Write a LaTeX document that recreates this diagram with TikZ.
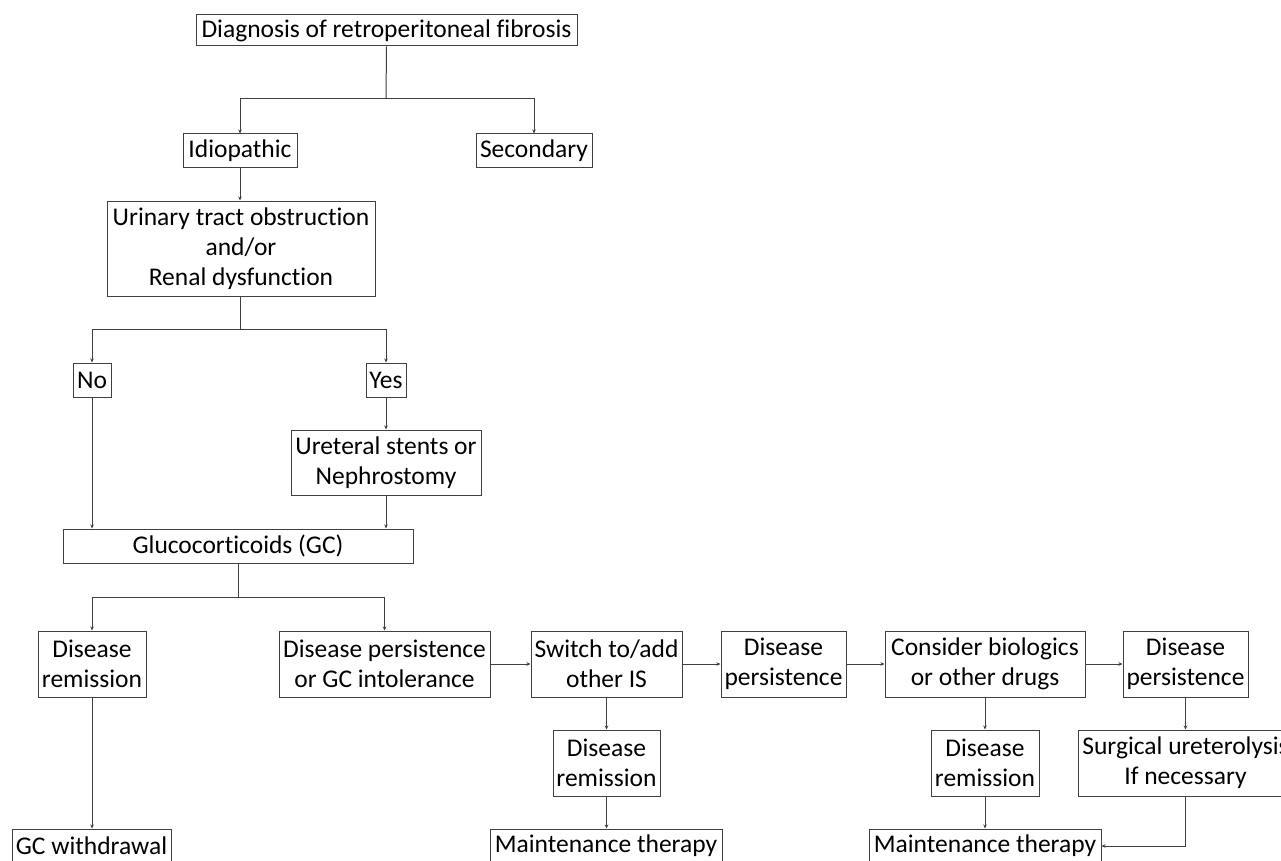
\documentclass[tikz,border=0pt]{standalone}
\usepackage{fontspec}
\setmainfont{Carlito}[Ligatures={NoCommon}]
\usetikzlibrary{arrows.meta}
\definecolor{ln}{HTML}{404040}
\tikzset{
  box/.style={draw=ln, line width=1pt, inner sep=0pt, align=center,
    font=\fontsize{25.5}{30}\selectfont, text=black},
  arr/.style={draw=ln, line width=1pt, -{Stealth[length=4pt,width=3.5pt]}},
  ln/.style={draw=ln, line width=1pt}
}
\begin{document}
\begin{tikzpicture}[x=1pt,y=-1pt]
\useasboundingbox (0,0) rectangle (1281,861);
\clip (0,0) rectangle (1281,861);
\fill[white] (0,0) rectangle (1281,861);
\node[box, minimum width=381pt, minimum height=31pt] (diag) at (386.5,30.5) {Diagnosis of retroperitoneal fibrosis};
\node[box, minimum width=114pt, minimum height=34pt] (idio) at (240,151) {Idiopathic};
\node[box, minimum width=116pt, minimum height=34pt] (sec) at (534,151) {Secondary};
\node[box, minimum width=268pt, minimum height=95pt] (uri) at (241,248.5) {Urinary tract obstruction\\and/or\\Renal dysfunction};
\node[box, minimum width=38pt, minimum height=34pt] (no) at (92,380) {No};
\node[box, minimum width=40pt, minimum height=34pt] (yes) at (386,380) {Yes};
\node[box, minimum width=190pt, minimum height=65pt] (stent) at (386,462.5) {Ureteral stents or\\Nephrostomy};
\node[box, minimum width=350pt, minimum height=34pt] (gc) at (238,546) {Glucocorticoids (GC)};
\node[box, minimum width=108pt, minimum height=66pt] (rem1) at (92,664) {Disease\\remission};
\node[box, minimum width=211pt, minimum height=66pt] (pers1) at (384.5,664) {Disease persistence\\or GC intolerance};
\node[box, minimum width=151pt, minimum height=66pt] (sw) at (606.5,664) {Switch to/add\\other IS};
\node[box, minimum width=125pt, minimum height=66pt] (pers2) at (783.5,664) {Disease\\persistence};
\node[box, minimum width=200pt, minimum height=66pt] (bio) at (985,664) {Consider biologics\\or other drugs};
\node[box, minimum width=125pt, minimum height=66pt] (pers3) at (1185.5,664) {Disease\\persistence};
\node[box, minimum width=107pt, minimum height=66pt] (rem2) at (606.5,763) {Disease\\remission};
\node[box, minimum width=108pt, minimum height=66pt] (rem3) at (985,763) {Disease\\remission};
\node[box, minimum width=215pt, minimum height=66pt] (surg) at (1185.5,763) {Surgical ureterolysis\\If necessary};
\node[box, minimum width=159pt, minimum height=34pt] (gcw) at (91.5,846) {GC withdrawal};
\node[box, minimum width=232pt, minimum height=34pt] (mt1) at (606,846) {Maintenance therapy};
\node[box, minimum width=232pt, minimum height=34pt] (mt2) at (985,846) {Maintenance therapy};
% connectors
\coordinate (j1) at (386,99);
\draw[ln] (diag.south) -- (j1);
\draw[arr] (j1) -| (idio.north);
\draw[arr] (j1) -| (sec.north);
\draw[arr] (idio.south) -- (uri.north -| idio.south);
\coordinate (j2) at (240,329);
\draw[ln] (uri.south -| j2) -- (j2);
\draw[arr] (j2) -| (no.north);
\draw[arr] (j2) -| (yes.north);
\draw[arr] (yes.south) -- (stent.north);
\draw[arr] (no.south) -- (no.south |- gc.north);
\draw[arr] (stent.south) -- (stent.south |- gc.north);
\coordinate (j3) at (238,597);
\draw[ln] (gc.south) -- (j3);
\draw[arr] (j3) -| (rem1.north);
\draw[arr] (j3) -| (pers1.north);
\draw[arr] (pers1.east) -- (sw.west);
\draw[arr] (sw.east) -- (pers2.west);
\draw[arr] (pers2.east) -- (bio.west);
\draw[arr] (bio.east) -- (pers3.west);
\draw[arr] (sw.south) -- (rem2.north);
\draw[arr] (bio.south) -- (rem3.north);
\draw[arr] (pers3.south) -- (surg.north);
\draw[arr] (rem1.south) -- (rem1.south |- gcw.north);
\draw[arr] (rem2.south) -- (rem2.south |- mt1.north);
\draw[arr] (rem3.south) -- (mt2.north);
\draw[arr] (surg.south) |- (mt2.east);
\end{tikzpicture}
\end{document}
